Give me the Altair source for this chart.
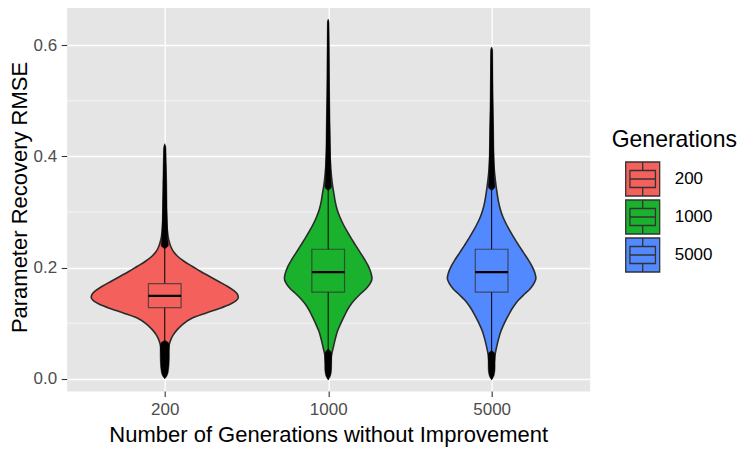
import json
import altair as alt
import pandas as pd

# ---------------- data ----------------
generations = ["200", "1000", "5000"]
colors = ["#F4605B", "#1AB22C", "#5289FE"]
positions = [1, 2, 3]

# violin outlines: RMSE value and half width (in category units)
violin_200_y = [0.004, 0.015, 0.030, 0.045, 0.058, 0.068, 0.078, 0.088, 0.098, 0.108,
                0.118, 0.126, 0.134, 0.140, 0.146, 0.152, 0.158, 0.166, 0.175, 0.184,
                0.193, 0.202, 0.211, 0.220, 0.228, 0.237, 0.250, 0.270, 0.300, 0.340,
                0.380, 0.420]
violin_200_w = [0.000, 0.010, 0.015, 0.019, 0.025, 0.034, 0.050, 0.075, 0.110, 0.160,
                0.250, 0.330, 0.400, 0.435, 0.450, 0.445, 0.425, 0.385, 0.330, 0.275,
                0.220, 0.170, 0.120, 0.080, 0.055, 0.038, 0.024, 0.015, 0.010, 0.006,
                0.004, 0.000]

violin_1000_y = [0.0024, 0.015, 0.030, 0.045, 0.055, 0.070, 0.085, 0.100, 0.115, 0.130,
                 0.142, 0.152, 0.162, 0.172, 0.181, 0.190, 0.203, 0.215, 0.227, 0.240,
                 0.252, 0.265, 0.278, 0.292, 0.305, 0.320, 0.335, 0.345, 0.370, 0.410,
                 0.460, 0.520, 0.580, 0.644]
violin_1000_w = [0.000, 0.010, 0.016, 0.022, 0.030, 0.042, 0.056, 0.078, 0.102, 0.130,
                 0.162, 0.195, 0.232, 0.258, 0.268, 0.262, 0.245, 0.222, 0.196, 0.168,
                 0.142, 0.116, 0.092, 0.070, 0.054, 0.042, 0.034, 0.028, 0.018, 0.010,
                 0.006, 0.004, 0.003, 0.000]

violin_5000_y = [0.0024, 0.015, 0.030, 0.045, 0.055, 0.070, 0.085, 0.100, 0.115, 0.130,
                 0.142, 0.152, 0.162, 0.172, 0.181, 0.190, 0.203, 0.215, 0.227, 0.240,
                 0.252, 0.265, 0.278, 0.292, 0.305, 0.320, 0.335, 0.345, 0.370, 0.410,
                 0.460, 0.520, 0.560, 0.594]
violin_5000_w = [0.000, 0.010, 0.016, 0.022, 0.029, 0.041, 0.056, 0.078, 0.104, 0.134,
                 0.166, 0.200, 0.236, 0.260, 0.271, 0.265, 0.246, 0.222, 0.195, 0.166,
                 0.140, 0.114, 0.090, 0.068, 0.053, 0.041, 0.033, 0.028, 0.018, 0.010,
                 0.006, 0.004, 0.003, 0.000]

# boxplot statistics
whisker_low = [0.064, 0.049, 0.047]
q1 = [0.128, 0.156, 0.156]
median = [0.149, 0.192, 0.192]
q3 = [0.171, 0.233, 0.233]
whisker_high = [0.238, 0.343, 0.343]

# dense outlier clouds (value, half width of the cloud)
out_hi_200_y = [0.234, 0.240, 0.250, 0.270, 0.300, 0.350, 0.390, 0.415, 0.423]
out_hi_200_w = [0.000, 0.022, 0.018, 0.016, 0.014, 0.012, 0.009, 0.007, 0.000]
out_lo_200_y = [0.000, 0.005, 0.012, 0.025, 0.040, 0.055, 0.064, 0.069]
out_lo_200_w = [0.000, 0.013, 0.021, 0.026, 0.028, 0.028, 0.024, 0.000]

out_hi_1000_y = [0.339, 0.345, 0.360, 0.400, 0.450, 0.500, 0.550, 0.600, 0.640, 0.647]
out_hi_1000_w = [0.000, 0.020, 0.016, 0.014, 0.012, 0.009, 0.007, 0.006, 0.005, 0.000]
out_lo_1000_y = [-0.002, 0.003, 0.010, 0.020, 0.035, 0.047, 0.053]
out_lo_1000_w = [0.000, 0.011, 0.018, 0.021, 0.021, 0.019, 0.000]

out_hi_5000_y = [0.339, 0.345, 0.360, 0.400, 0.450, 0.500, 0.550, 0.590, 0.597]
out_hi_5000_w = [0.000, 0.020, 0.016, 0.014, 0.012, 0.009, 0.007, 0.006, 0.000]
out_lo_5000_y = [-0.002, 0.003, 0.010, 0.020, 0.035, 0.045, 0.051]
out_lo_5000_w = [0.000, 0.011, 0.018, 0.021, 0.021, 0.019, 0.000]

minor_breaks = [0.1, 0.3, 0.5]
major_breaks = [0.0, 0.2, 0.4, 0.6]
box_half = 0.1

# ---------------- tables built from the lists ----------------
violins = {"200": (violin_200_y, violin_200_w),
           "1000": (violin_1000_y, violin_1000_w),
           "5000": (violin_5000_y, violin_5000_w)}
vrows = []
for g, p in zip(generations, positions):
    ys, ws = violins[g]
    for y, w in zip(ys, ws):
        vrows.append({"group": g, "rmse": y, "xl": p - w, "xr": p + w})
violin_df = pd.DataFrame(vrows)

outs = {"200": [(out_hi_200_y, out_hi_200_w), (out_lo_200_y, out_lo_200_w)],
        "1000": [(out_hi_1000_y, out_hi_1000_w), (out_lo_1000_y, out_lo_1000_w)],
        "5000": [(out_hi_5000_y, out_hi_5000_w), (out_lo_5000_y, out_lo_5000_w)]}
orows = []
for g, p in zip(generations, positions):
    for k, (ys, ws) in enumerate(outs[g]):
        for y, w in zip(ys, ws):
            orows.append({"seg": f"{g}-{k}", "rmse": y, "xl": p - w, "xr": p + w})
out_df = pd.DataFrame(orows)

box_df = pd.DataFrame({
    "group": generations, "pos": positions,
    "xl": [p - box_half for p in positions], "xr": [p + box_half for p in positions],
    "lo": whisker_low, "q1": q1, "med": median, "q3": q3, "hi": whisker_high,
})
minor_df = pd.DataFrame({"v": minor_breaks})

# ---------------- encodings ----------------
FONT = "Liberation Sans"
xtitle = "Number of Generations without Improvement"
ytitle = "Parameter Recovery RMSE"
xscale = alt.Scale(domain=[0.4, 3.6], nice=False, zero=False)
yscale = alt.Scale(domain=[-0.022, 0.676], nice=False, zero=False)
label_expr = json.dumps(generations) + "[datum.value - 1]"
xaxis = alt.Axis(values=positions, labelExpr=label_expr, title=xtitle, grid=True)
yaxis = alt.Axis(values=major_breaks, format=".1f", title=ytitle, grid=True)

legend_path = ("M-1,-1H1V1H-1Z M-0.75,-0.5H0.75V0.5H-0.75Z M-0.75,0H0.75 "
               "M0,-1V-0.5 M0,0.5V1")
legend = alt.Legend(
    title="Generations", orient="none", direction="vertical",
    legendX=545, legendY=126, padding=0,
    symbolType=legend_path, symbolSize=1156,
    symbolStrokeColor="#333333", symbolStrokeWidth=1.3,
    symbolOffset=13, labelOffset=14, rowPadding=-4,
    titlePadding=9, titleFontSize=23, titleFont=FONT,
    titleFontWeight="normal", titleColor="black",
    labelFontSize=17, labelFont=FONT, labelColor="black")
color_scale = alt.Scale(domain=generations, range=colors)


def X(field):
    return alt.X(field, type="quantitative", scale=xscale, axis=xaxis, title=xtitle, stack=None)


def Y(field):
    return alt.Y(field, type="quantitative", scale=yscale, axis=yaxis, title=ytitle, stack=None)


def C():
    return alt.Color("group:N", scale=color_scale, legend=legend, title="Generations")


minor = alt.Chart(minor_df).mark_rule(color="white", strokeWidth=0.6).encode(y=Y("v"))

violin = alt.Chart(violin_df).mark_area(
    orient="horizontal", interpolate="monotone", stroke="#2b2b2b", strokeWidth=1.6
).encode(y=Y("rmse"), x=X("xl"), x2="xr", color=C(), detail="group:N")

outliers = alt.Chart(out_df).mark_area(
    orient="horizontal", interpolate="monotone", color="black", stroke="black", strokeWidth=0.5
).encode(y=Y("rmse"), x=X("xl"), x2="xr", detail="seg:N")

whiskers = alt.Chart(box_df).mark_rule(color="black", strokeWidth=1).encode(
    x=X("pos"), y=Y("lo"), y2="hi")

boxes = alt.Chart(box_df).mark_bar(
    stroke="#333333", strokeWidth=1.2, strokeOpacity=0.75
).encode(x=X("xl"), x2="xr", y=Y("q1"), y2="q3", color=C())

medians = alt.Chart(box_df).mark_rule(color="black", strokeWidth=2.2).encode(
    x=X("xl"), x2="xr", y=Y("med"))

chart = alt.layer(minor, violin, outliers, whiskers, boxes, medians).properties(
    width=523, height=388,
    autosize=alt.AutoSizeParams(type="none"),
    padding={"left": 58.7, "top": -5, "right": 152, "bottom": 61},
).configure_view(
    fill="#E5E5E5", stroke="transparent"
).configure_axis(
    domain=False, ticks=True, tickColor="#333333", tickWidth=1.1, tickSize=5.5,
    labelFont=FONT, labelFontSize=17, labelColor="#4D4D4D", labelPadding=4.5,
    titleFont=FONT, titleFontSize=22, titleFontWeight="normal", titleColor="black",
    gridColor="white", gridWidth=1.3,
).configure_axisX(titlePadding=7, labelPadding=5.5).configure_axisY(titlePadding=2)

chart.save("out.html", embed_options={"renderer": "svg", "actions": False})
